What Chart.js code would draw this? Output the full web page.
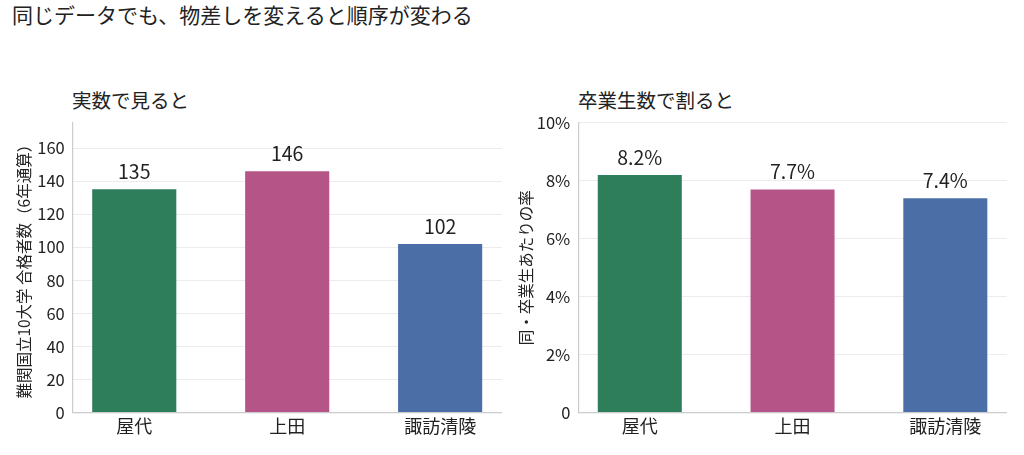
<!DOCTYPE html>
<html lang="ja">
<head>
<meta charset="utf-8">
<script src="https://cdn.jsdelivr.net/npm/chart.js@4/dist/chart.umd.min.js"></script>
<style>
    body { margin: 0; background: #fff; font-family: "Noto Sans CJK JP", "Noto Sans", sans-serif; color: #222; }
    #page { position: relative; width: 1024px; height: 455px; overflow: hidden; }
    .title { position: absolute; left: 12px; top: -1px; font-size: 21px; line-height: 30px; white-space: nowrap; }
    .subtitle { position: absolute; top: 86px; font-size: 19.5px; line-height: 28px; white-space: nowrap; }
    .box { position: absolute; top: 105px; height: 350px; }
</style>
</head>
<body>
<div id="page">
    <div class="title">同じデータでも、物差しを変えると順序が変わる</div>
    <div class="subtitle" style="left:72px">実数で見ると</div>
    <div class="subtitle" style="left:578px">卒業生数で割ると</div>
    <div class="box" style="left:0; width:520px"><canvas id="countChart"></canvas></div>
    <div class="box" style="left:500px; width:524px"><canvas id="rateChart"></canvas></div>
</div>
<script>
const schools = ["屋代", "上田", "諏訪清陵"];
const passCounts = [135, 146, 102];        // 難関国立10大学 合格者数（6年通算）
const passRates = [8.2, 7.7, 7.4];         // 同・卒業生あたりの率 (%)
const barColors = ["#2e7d5b", "#b55487", "#4a6ea5"];

const textColor = "#222";
const axisColor = "#cccccc";
const gridColor = "#ececec";
const fontFamily = "'Noto Sans CJK JP', 'Noto Sans', sans-serif";

// Draw the value above each bar
const valueLabels = {
    id: "valueLabels",
    afterDatasetsDraw(chart, args, opts) {
        const ctx = chart.ctx;
        const meta = chart.getDatasetMeta(0);
        ctx.save();
        ctx.font = `19.5px ${fontFamily}`;
        ctx.fillStyle = textColor;
        ctx.textAlign = "center";
        ctx.textBaseline = "bottom";
        meta.data.forEach((bar, i) => {
            ctx.fillText(opts.format(chart.data.datasets[0].data[i].y), bar.x, bar.y - 8);
        });
        ctx.restore();
    }
};

function makeChart(canvasId, values, yMax, yStep, yTitle, yFormat, labelFormat, yWidth, padLeft, padRight) {
    return new Chart(document.getElementById(canvasId), {
        type: "bar",
        data: {
            datasets: [{
                data: values.map((v, i) => ({ x: i, y: v })),
                backgroundColor: barColors,
                barPercentage: 0.55,
                categoryPercentage: 1
            }]
        },
        plugins: [valueLabels],
        options: {
            responsive: true,
            maintainAspectRatio: false,
            animation: false,
            layout: { padding: { left: padLeft, right: padRight, top: 7, bottom: 0 } },
            scales: {
                x: {
                    type: "linear",
                    min: -0.4025,
                    max: 2.4025,
                    offset: false,
                    afterBuildTicks: axis => { axis.ticks = schools.map((s, i) => ({ value: i })); },
                    afterFit: axis => { axis.height = 42.5; },
                    ticks: {
                        callback: v => schools[v],
                        color: textColor,
                        font: { family: fontFamily, size: 18 },
                        padding: 3,
                        maxRotation: 0,
                        autoSkip: false
                    },
                    grid: { display: false, drawTicks: false, offset: false },
                    border: { color: axisColor, width: 1.2 }
                },
                y: {
                    min: 0,
                    max: yMax,
                    afterFit: axis => { axis.width = yWidth; },
                    ticks: {
                        stepSize: yStep,
                        includeBounds: false,
                        callback: yFormat,
                        color: textColor,
                        font: { family: fontFamily, size: 16.5 },
                        padding: 8
                    },
                    grid: {
                        color: ctx => ctx.tick && ctx.tick.value === 0 ? "rgba(0,0,0,0)" : gridColor,
                        drawTicks: false
                    },
                    border: { color: axisColor, width: 1.2 },
                    title: {
                        display: true,
                        text: yTitle,
                        color: textColor,
                        font: { family: fontFamily, size: 15.5 },
                        padding: { top: 4, bottom: 4 }
                    }
                }
            },
            plugins: {
                legend: { display: false },
                tooltip: { enabled: false },
                valueLabels: { format: labelFormat }
            }
        }
    });
}

const countChart = makeChart(
    "countChart", passCounts, 175.2, 20,
    "難関国立10大学 合格者数（6年通算）",
    v => String(v),
    v => String(v),
    61.7, 11, 18.3
);

const rateChart = makeChart(
    "rateChart", passRates, 10, 2,
    "同・卒業生あたりの率",
    v => v === 0 ? "0" : `${v}%`,
    v => `${v.toFixed(1)}%`,
    65.3, 13, 17.2
);
</script>
</body>
</html>
